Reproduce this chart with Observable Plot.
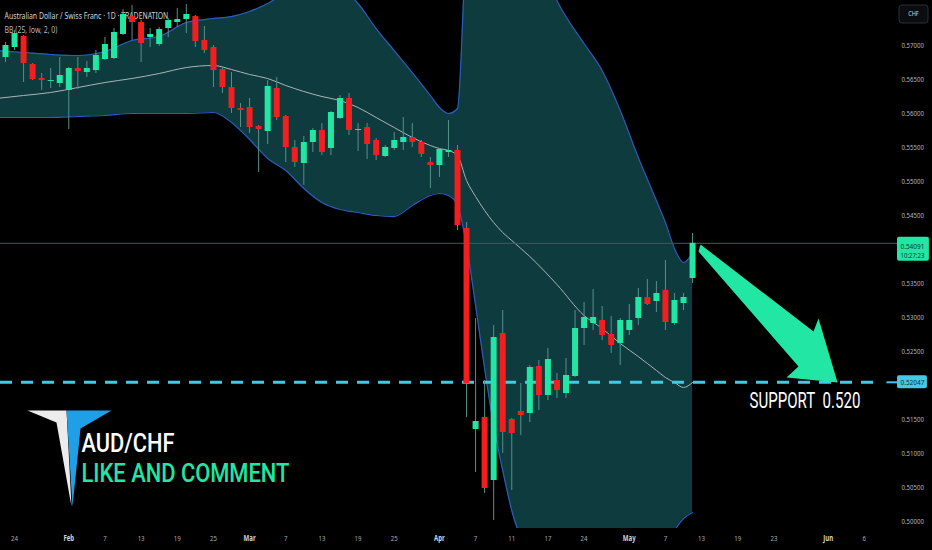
<!DOCTYPE html>
<html>
<head>
<meta charset="utf-8">
<script src="https://cdn.jsdelivr.net/npm/d3@7"></script>
<script src="https://cdn.jsdelivr.net/npm/@observablehq/plot@0.6"></script>
<style>
html,body{margin:0;padding:0;background:#000;overflow:hidden}
#chart svg{display:block}
</style>
</head>
<body>
<div id="chart"></div>
<script>
// ---------- data ----------
const dates = [
  "2025-01-23","2025-01-24","2025-01-27","2025-01-28","2025-01-29","2025-01-30","2025-01-31",
  "2025-02-03","2025-02-04","2025-02-05","2025-02-06","2025-02-07","2025-02-10","2025-02-11",
  "2025-02-12","2025-02-13","2025-02-14","2025-02-17","2025-02-18","2025-02-19","2025-02-20",
  "2025-02-21","2025-02-24","2025-02-25","2025-02-26","2025-02-27","2025-02-28","2025-03-03",
  "2025-03-04","2025-03-05","2025-03-06","2025-03-07","2025-03-10","2025-03-11","2025-03-12",
  "2025-03-13","2025-03-14","2025-03-17","2025-03-18","2025-03-19","2025-03-20","2025-03-21",
  "2025-03-24","2025-03-25","2025-03-26","2025-03-27","2025-03-28","2025-03-31","2025-04-01",
  "2025-04-02","2025-04-03","2025-04-04","2025-04-07","2025-04-08","2025-04-09","2025-04-10",
  "2025-04-11","2025-04-14","2025-04-15","2025-04-16","2025-04-17","2025-04-21","2025-04-22",
  "2025-04-23","2025-04-24","2025-04-25","2025-04-28","2025-04-29","2025-04-30","2025-05-01",
  "2025-05-02","2025-05-05","2025-05-06","2025-05-07","2025-05-08","2025-05-09","2025-05-12"
];
const open = [
  0.56824,0.56971,0.57132,0.56721,0.56515,0.56471,0.56441,0.56338,0.56662,0.56603,
  0.56632,0.56794,0.56809,0.57162,0.57426,0.57338,0.57118,0.57015,0.57250,0.57338,
  0.57382,0.57426,0.57074,0.56971,0.56647,0.56382,0.56074,0.56088,0.55809,0.55735,
  0.56368,0.55956,0.55500,0.55265,0.55574,0.55750,0.55485,0.55926,0.56221,0.55750,
  0.55794,0.55603,0.55368,0.55485,0.55574,0.55647,0.55574,0.55279,0.55235,0.55426,
  0.55456,0.54309,0.51353,0.51529,0.50603,0.52765,0.51500,0.51618,0.51588,0.52279,
  0.51853,0.52074,0.51882,0.52132,0.52838,0.52912,0.52956,0.52750,0.52618,0.52809,
  0.52985,0.53294,0.53235,0.53397,0.52912,0.53206,0.53574
];
const high = [
  0.57044,0.57221,0.57147,0.56735,0.56588,0.56662,0.56824,0.56676,0.56824,0.56765,
  0.56926,0.57118,0.57250,0.57529,0.57588,0.57368,0.57250,0.57265,0.57397,0.57544,
  0.57603,0.57441,0.57279,0.57000,0.56676,0.56603,0.56147,0.56221,0.55824,0.56485,
  0.56529,0.55971,0.55603,0.55662,0.55779,0.55853,0.56029,0.56265,0.56294,0.55853,
  0.55853,0.55632,0.55529,0.55721,0.55941,0.55853,0.55603,0.55353,0.55485,0.55897,
  0.55529,0.54397,0.52985,0.52074,0.52882,0.53103,0.51515,0.52029,0.52294,0.52368,
  0.52544,0.52176,0.52397,0.53103,0.53221,0.53412,0.53162,0.53015,0.52985,0.53191,
  0.53426,0.53559,0.53529,0.53838,0.53353,0.53353,0.54235
];
const low = [
  0.56750,0.56926,0.56456,0.56485,0.56338,0.56368,0.56382,0.55765,0.56353,0.56529,
  0.56588,0.56779,0.56794,0.57147,0.57074,0.56750,0.56971,0.56985,0.57118,0.57265,
  0.57176,0.56971,0.56882,0.56382,0.56294,0.56000,0.55794,0.55706,0.55132,0.55544,
  0.55897,0.55279,0.55206,0.54941,0.55426,0.55382,0.55382,0.55912,0.55676,0.55441,
  0.55324,0.55309,0.55353,0.55456,0.55456,0.55500,0.55353,0.54897,0.55059,0.55353,
  0.54279,0.51529,0.50721,0.50412,0.50015,0.51000,0.50456,0.51265,0.51456,0.51632,
  0.51779,0.51809,0.51809,0.52118,0.52588,0.52809,0.52662,0.52471,0.52294,0.52735,
  0.52882,0.53176,0.53074,0.52809,0.52882,0.53103,0.53500
];
const close = [
  0.57000,0.57176,0.56735,0.56500,0.56485,0.56485,0.56559,0.56662,0.56618,0.56662,
  0.56853,0.57015,0.57191,0.57456,0.57338,0.57029,0.57162,0.57235,0.57368,0.57382,
  0.57456,0.57059,0.56926,0.56632,0.56382,0.56074,0.56044,0.55794,0.55765,0.56397,
  0.55941,0.55500,0.55279,0.55574,0.55750,0.55426,0.56015,0.56221,0.55750,0.55765,
  0.55544,0.55382,0.55500,0.55603,0.55647,0.55574,0.55397,0.55235,0.55471,0.55456,
  0.54353,0.52029,0.51471,0.50485,0.52706,0.51309,0.51294,0.51559,0.52265,0.51853,
  0.52382,0.51926,0.52147,0.52838,0.53000,0.53000,0.52735,0.52588,0.52956,0.52956,
  0.53294,0.53191,0.53353,0.52926,0.53250,0.53294,0.54091
];

// Bollinger Bands (25, low, 2, 0), at bar positions
const bandBar = [-1,2,5,8,11,14,17,20,23,25,27,29,31,33,35,37,39,41,43,45,47,48,49,50,51,52,53,54,55,56,58,61,64,66,68,70,72,73,74,75,76];
const bandUpper = [
  0.56926,0.56897,0.56868,0.56853,0.56912,0.57074,0.57132,0.57338,0.57397,0.57426,
  0.57500,0.57618,0.57779,0.57926,0.57985,0.57882,0.57618,0.57250,0.56926,0.56603,
  0.56265,0.56088,0.56000,0.56074,0.58544,0.59279,0.59574,0.59721,0.59574,0.59279,
  0.58691,0.57662,0.57029,0.56632,0.56044,0.55353,0.54721,0.54397,0.54015,0.53809,
  0.53941
];
const bandMiddle = [
  0.56221,0.56265,0.56309,0.56382,0.56456,0.56515,0.56588,0.56676,0.56706,0.56647,
  0.56574,0.56515,0.56412,0.56324,0.56250,0.56191,0.56088,0.55941,0.55794,0.55647,
  0.55529,0.55485,0.55456,0.55382,0.55015,0.54779,0.54574,0.54397,0.54250,0.54132,
  0.53897,0.53485,0.53029,0.52838,0.52618,0.52426,0.52221,0.52118,0.52044,0.51971,
  0.52044
];
const bandLower = [
  0.55941,0.55941,0.55941,0.55956,0.55971,0.56000,0.56000,0.56000,0.56015,0.55868,
  0.55618,0.55338,0.55162,0.54897,0.54691,0.54588,0.54544,0.54500,0.54485,0.54647,
  0.54794,0.54824,0.54794,0.54647,0.54059,0.53176,0.52250,0.51412,0.50750,0.50162,
  0.49500,0.49132,0.48985,0.48985,0.49059,0.49279,0.49426,0.49647,0.49868,0.50044,
  0.50132
];

// axis ticks
const dayTickBars = [1,11,15,19,23,31,35,39,43,52,56,60,64,73,77,81,85,95];
const dayTickLabels = ["24","7","13","19","25","7","13","19","25","7","11","17","24","7","13","19","23","6"];
const monthTickBars = [7,27,48,69,91];
const monthTickLabels = ["Feb","Mar","Apr","May","Jun"];
const priceTicks = [0.500,0.505,0.510,0.515,0.525,0.530,0.535,0.545,0.550,0.555,0.560,0.565,0.570];

// levels & texts
const lastPrice = 0.54091;
const lastTime = "10:27:23";
const supportLevel = 0.52047;
const title = "Australian Dollar / Swiss Franc · 1D · TRADENATION";
const indicatorLabel = "BB (25, low, 2, 0)";
const currency = "CHF";
const brandText = "AUD/CHF";
const ctaText = "LIKE AND COMMENT";
const supportText = "SUPPORT\u00a0\u00a00.520";

// ---------- annotation geometry (bar, price) ----------
const ann = {
  arrow: [[76.88,0.54074],[89.38,0.52794],[89.93,0.52985],[92.04,0.52044],[86.39,0.52118],[87.72,0.52279],[76.66,0.53971]],
  logoWhite: [[2.43,0.51632],[6.75,0.51632],[7.30,0.50221],[5.64,0.51456]],
  logoBlue: [[6.75,0.51632],[11.73,0.51632],[8.30,0.51368],[7.41,0.50221]],
  brand: [8.41, 0.51029],
  cta: [8.41, 0.50574],
  support: [82.3, 0.51662],
  tagX1: 98.67, tagX2: 102.2, tagTextX: 99.0, tickX1: 97.5
};

// ---------- tables ----------
const candles = dates.map((d, i) => ({i, date: d, open: open[i], high: high[i], low: low[i], close: close[i]}));
const bands = bandBar.map((b, k) => ({i: b, upper: bandUpper[k], middle: bandMiddle[k], lower: bandLower[k]}));
const dayLabel = new Map(dayTickBars.map((b, k) => [b, dayTickLabels[k]]));
const monthLabel = new Map(monthTickBars.map((b, k) => [b, monthTickLabels[k]]));

// ---------- style ----------
const GREEN = "#22e6a3", RED = "#f21f1f", WICK = "#57908a";
const BAND_FILL = "#0e3b3e", BAND_LINE = "#2c5cbc", MID_LINE = "#aab4b7";
const CYAN = "#45c9e2", PRICE_LINE = "#1d6b5d";
const curve = "monotone-x";
const Y0 = 0.49897, Y1 = 0.57662, PLOT_H = 528;
const PX = (Y1 - Y0) / PLOT_H; // price per pixel, for label box padding
const BIG_FONT = "Roboto, 'Noto Sans', sans-serif";

const chart = Plot.plot({
  width: 932, height: 550,
  marginLeft: 0, marginRight: 52, marginTop: 0, marginBottom: 22,
  style: {background: "#000", color: "#b2b5be", fontFamily: "'Noto Sans', 'DejaVu Sans', sans-serif", fontSize: "8px"},
  x: {type: "linear", domain: [-0.553, 96.79], axis: null, label: null},
  y: {type: "linear", domain: [Y0, Y1], axis: null, label: null},
  color: {type: "identity"},
  marks: [
    Plot.areaY(bands, {x: "i", y1: "lower", y2: "upper", fill: BAND_FILL, curve, clip: true}),
    Plot.line(bands, {x: "i", y: "upper", stroke: BAND_LINE, strokeWidth: 1.2, curve, clip: true}),
    Plot.line(bands, {x: "i", y: "lower", stroke: BAND_LINE, strokeWidth: 1.2, curve, clip: true}),
    Plot.line(bands, {x: "i", y: "middle", stroke: MID_LINE, strokeWidth: 1, curve, clip: true}),
    Plot.ruleY([lastPrice], {x1: -0.553, x2: ann.tagX1, stroke: PRICE_LINE, strokeWidth: 1}),
    Plot.ruleY([supportLevel], {stroke: CYAN, strokeWidth: 3, strokeDasharray: "12,9"}),
    Plot.ruleY([supportLevel], {x1: ann.tickX1, x2: ann.tagX1, stroke: CYAN, strokeWidth: 2}),
    Plot.text([title], {text: d => d, frameAnchor: "top-left", dx: 4, dy: 12.5, textAnchor: "start", fill: "#d1d4dc", fontSize: 9, className: "t-title"}),
    Plot.text([indicatorLabel], {text: d => d, frameAnchor: "top-left", dx: 4, dy: 26.5, textAnchor: "start", fill: "#b2b5be", fontSize: 9, className: "t-bb"}),
    Plot.ruleX(candles, {x: "i", y1: "low", y2: "high", stroke: WICK, strokeWidth: 1}),
    Plot.ruleX(candles, {x: "i", y1: "open", y2: "close", stroke: d => d.close >= d.open ? GREEN : RED, strokeWidth: 6}),
    Plot.line(ann.arrow, {x: d => d[0], y: d => d[1], fill: GREEN, stroke: "none"}),
    Plot.line(ann.logoWhite, {x: d => d[0], y: d => d[1], fill: "#ececec", stroke: "none"}),
    Plot.line(ann.logoBlue, {x: d => d[0], y: d => d[1], fill: "#1e9fe6", stroke: "none"}),
    Plot.text([brandText], {text: d => d, x: ann.brand[0], y: ann.brand[1], textAnchor: "start", lineAnchor: "bottom", fill: "#ffffff", fontSize: 25, fontWeight: 500, fontFamily: BIG_FONT, className: "t-brand"}),
    Plot.text([ctaText], {text: d => d, x: ann.cta[0], y: ann.cta[1], textAnchor: "start", lineAnchor: "bottom", fill: GREEN, fontSize: 26, fontWeight: 500, fontFamily: BIG_FONT, className: "t-cta"}),
    Plot.text([supportText], {text: d => d, x: ann.support[0], y: ann.support[1], textAnchor: "start", lineAnchor: "bottom", fill: "#ffffff", fontSize: 22, fontFamily: BIG_FONT, className: "t-support"}),
    // price tags on the price scale
    Plot.rect([lastPrice], {x1: ann.tagX1, x2: ann.tagX2, y1: d => d - 18 * PX, y2: d => d + 6 * PX, fill: GREEN, rx: 2}),
    Plot.text([lastPrice], {x: ann.tagTextX, y: d => d, dy: 3, text: d => d3.format(".5f")(d), textAnchor: "start", fill: "#073d2c", fontSize: 8, className: "t-tag"}),
    Plot.text([lastTime], {x: ann.tagTextX, y: lastPrice, dy: 12.5, text: d => d, textAnchor: "start", fill: "#073d2c", fontSize: 8, className: "t-tag"}),
    Plot.rect([supportLevel], {x1: ann.tagX1, x2: ann.tagX2 - 0.22, y1: d => d - 6.5 * PX, y2: d => d + 6.5 * PX, fill: CYAN, rx: 2}),
    Plot.text([supportLevel], {x: ann.tagTextX, y: d => d, text: d => d3.format(".5f")(d), textAnchor: "start", fill: "#06323a", fontSize: 8, className: "t-tag"}),
    Plot.axisY({ticks: priceTicks, anchor: "right", label: null, tickSize: 0, tickPadding: 21, tickFormat: d3.format(".5f"), textAnchor: "start", fill: "#b2b5be", fontSize: 8}),
    Plot.axisX({ticks: dayTickBars, anchor: "bottom", label: null, tickSize: 0, tickPadding: 7, tickFormat: d => dayLabel.get(d), fill: "#a9acb5", fontSize: 8}),
    Plot.axisX({ticks: monthTickBars, anchor: "bottom", label: null, tickSize: 0, tickPadding: 7, tickFormat: d => monthLabel.get(d), fill: "#d1d4dc", fontSize: 8, fontWeight: "bold"})
  ]
});

document.getElementById("chart").append(chart);

const svg = d3.select(chart);

// narrow a text horizontally around its anchor (keeps real bounding boxes)
function narrow(node, f) {
  const ax = +(node.getAttribute("x") || 0) || 0;
  const t = node.getAttribute("transform") || "";
  node.setAttribute("transform", `${t} translate(${ax},0) scale(${f},1) translate(${-ax},0)`);
}
const fixed = {"t-title": 164, "t-bb": 53, "t-brand": 93, "t-cta": 208, "t-support": 111, "t-tag": 24};
const fixedNodes = new Set();
for (const [cls, len] of Object.entries(fixed)) {
  svg.selectAll(`g.${cls} text`).each(function () {
    const l = this.getComputedTextLength();
    if (l > 0) narrow(this, len / l);
    fixedNodes.add(this);
  });
}
svg.selectAll("text").each(function () {
  if (fixedNodes.has(this)) return;
  narrow(this, 0.76);
});

// currency button
const btn = svg.append("g").attr("font-family", "'Noto Sans', sans-serif");
btn.append("rect").attr("x", 899).attr("y", 5).attr("width", 29).attr("height", 18).attr("rx", 3).attr("fill", "#0c0d10").attr("stroke", "#2a2e39");
btn.append("text").attr("x", 913.5).attr("y", 16.5).attr("text-anchor", "middle").attr("font-size", 7).attr("fill", "#d1d4dc").text(currency).each(function(){ narrow(this, 0.8); });
</script>
</body>
</html>
